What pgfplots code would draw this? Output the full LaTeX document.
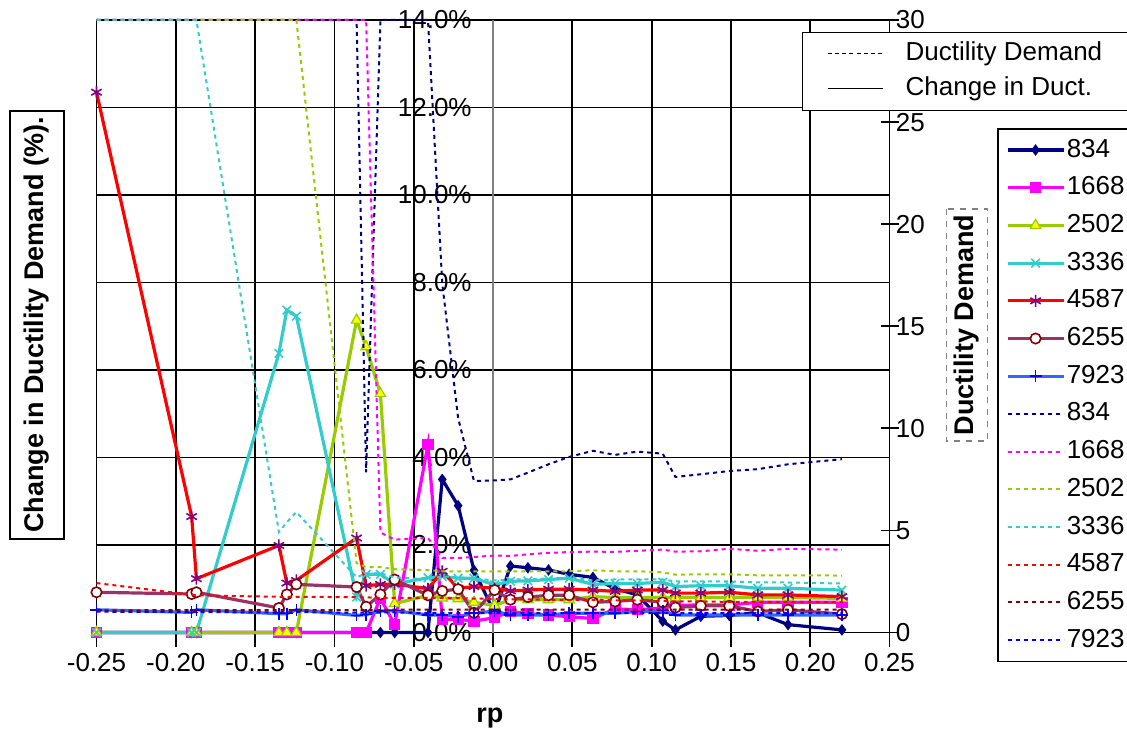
\documentclass[border=0pt]{standalone}
\usepackage{fontspec}
\setmainfont{Liberation Sans}
\usepackage{pgfplots}
\pgfplotsset{compat=1.18}
\usepackage{pgfplotstable}

\definecolor{cNavy}{HTML}{000080}
\definecolor{cMag}{HTML}{FF00FF}
\definecolor{cOlive}{HTML}{99CC00}
\definecolor{cYel}{HTML}{FFFF00}
\definecolor{cTeal}{HTML}{33CCCC}
\definecolor{cRed}{HTML}{FF0000}
\definecolor{cPurp}{HTML}{800080}
\definecolor{cPlum}{HTML}{993366}
\definecolor{cDRed}{HTML}{800000}
\definecolor{cBlue}{HTML}{3366FF}
\definecolor{cBlueB}{HTML}{0000FF}

\pgfplotstableread{
x a b c d e f g ad bd cd dd ed fd gd
-0.250 0 0 0 0 12.35 0.92 0.52 30 30 30 30 2.42 1.08 1.02
-0.190 0 0 0 0 2.65 0.88 0.46 30 30 30 30 1.85 1.10 1.00
-0.187 0 0 0 0 1.23 0.92 0.52 30 30 30 30 1.82 1.10 1.00
-0.135 0 0 0 6.38 1.99 0.56 0.43 30 30 30 4.92 1.75 1.10 0.98
-0.130 0 0 0 7.37 1.13 0.87 0.43 30 30 30 5.40 1.75 1.10 0.98
-0.124 0 0 0 7.23 1.19 1.10 0.52 30 30 30 5.90 1.75 1.10 1.00
-0.086 0 0 7.14 0.81 2.16 1.04 0.39 30 30 3.40 2.70 1.73 1.10 0.97
-0.080 0 0 6.53 1.33 1.07 0.59 0.41 7.84 30 3.20 2.90 1.72 1.10 0.97
-0.071 0 0.78 5.46 1.33 1.10 0.87 0.49 30 4.90 3.20 2.90 1.70 1.10 0.98
-0.062 0 0.18 0.66 1.11 1.11 1.21 0.50 30 4.55 3.10 2.70 1.70 1.12 0.98
-0.041 0 4.30 0.85 1.25 1.00 0.85 0.40 30 4.63 3.05 2.60 1.70 1.12 0.96
-0.032 3.50 0.30 0.79 1.28 1.40 0.95 0.40 17.1 3.65 3.00 2.75 1.70 1.12 0.96
-0.022 2.90 0.30 0.77 1.24 1.01 0.99 0.36 10.5 3.65 3.00 2.70 1.68 1.12 0.95
-0.012 1.42 0.26 0.69 1.24 1.05 0.45 0.44 7.42 3.70 3.00 2.65 1.66 1.12 0.95
0.001 0.45 0.34 0.62 1.09 1.01 0.97 0.49 7.45 3.77 3.00 2.55 1.65 1.12 0.95
0.011 1.52 0.48 0.75 1.17 0.95 0.75 0.40 7.50 3.75 3.00 2.60 1.62 1.12 0.95
0.022 1.48 0.43 0.75 1.18 0.97 0.81 0.40 7.83 3.83 3.00 2.60 1.62 1.12 0.95
0.035 1.43 0.40 0.75 1.21 0.99 0.85 0.40 8.24 3.90 3.00 2.65 1.60 1.12 0.95
0.048 1.33 0.36 0.75 1.24 0.99 0.85 0.44 8.60 3.94 3.00 2.70 1.60 1.12 0.95
0.063 1.26 0.32 0.82 1.10 0.97 0.69 0.44 8.90 3.96 3.05 2.55 1.60 1.12 0.95
0.077 1.00 0.54 0.80 1.12 0.94 0.71 0.44 8.70 3.95 3.00 2.60 1.58 1.12 0.95
0.091 0.86 0.52 0.80 1.12 0.97 0.75 0.48 8.86 4.00 3.00 2.60 1.57 1.12 0.95
0.107 0.26 0.56 0.80 1.15 0.97 0.69 0.50 8.76 4.06 2.95 2.60 1.55 1.12 0.95
0.115 0.06 0.62 0.80 1.05 0.90 0.57 0.40 7.62 3.96 2.83 2.50 1.52 1.12 0.95
0.131 0.37 0.63 0.80 1.07 0.90 0.61 0.40 7.75 3.98 2.85 2.50 1.52 1.12 0.95
0.149 0.39 0.63 0.80 1.07 0.92 0.61 0.40 7.91 4.10 2.85 2.50 1.50 1.12 0.95
0.167 0.45 0.69 0.80 1.01 0.86 0.48 0.40 8.00 4.00 2.80 2.45 1.50 1.12 0.95
0.186 0.18 0.69 0.80 1.01 0.86 0.52 0.40 8.24 4.10 2.80 2.45 1.50 1.12 0.95
0.220 0.06 0.69 0.78 0.97 0.82 0.42 0.40 8.49 4.06 2.79 2.40 1.49 1.12 0.95
}\data

\newcommand\tfont{\fontsize{13}{15.6}\selectfont}
\newcommand\lfont{\fontsize{13.5}{16}\selectfont\bfseries}

\pgfplotsset{
  frame/.style={at={(0,0)}, anchor=south west, scale only axis, width=396.5pt, height=306.25pt, xmin=-0.25, xmax=0.25},
  sol/.style={line width=1.6pt, mark options={solid}},
  dot/.style={line width=1pt, dash pattern=on 2pt off 2pt},
}

\begin{document}
\begin{tikzpicture}
\useasboundingbox (-48.25pt,-50.75pt) rectangle (515.25pt,316.25pt);

% ---- left axis: change in ductility demand (%)
\begin{axis}[frame,
  ymin=0, ymax=14,
  xtick={-0.25,-0.2,-0.15,-0.1,-0.05,0,0.05,0.1,0.15,0.2,0.25},
  xticklabels={-0.25,-0.20,-0.15,-0.10,-0.05,0.00,0.05,0.10,0.15,0.20,0.25},
  ytick={0,2,4,6,8,10,12,14},
  yticklabels={0.0\%,2.0\%,4.0\%,6.0\%,8.0\%,10.0\%,12.0\%,14.0\%},
  grid=major, major grid style={black, line width=0.9pt},
  axis line style={black, line width=0.9pt},
  xtick pos=bottom, ytick pos=left,
  xtick style={black, line width=0.9pt}, ytick style={draw=none},
  tick align=outside, major tick length=7pt,
  ticklabel style={font=\tfont},
  xticklabel style={inner sep=0pt, anchor=north, yshift=-3pt},
  yticklabel style={inner sep=0pt, anchor=east, xshift=194.75pt},
  xlabel={rp}, xlabel style={font=\lfont, at={(axis description cs:0.496,-0.1396)}, anchor=center},
  ylabel={Change in Ductility Demand (\%).},
  ylabel style={font=\lfont, draw=black, line width=1pt, inner xsep=3.25pt, inner ysep=7pt, at={(axis description cs:-0.075,0.502)}, anchor=center},
  clip=false,
]
\draw[gray, line width=0.9pt] (axis cs:0,0) -- (axis cs:0,14);
\addplot[sol, cNavy, mark=diamond*, mark size=1.6pt] table[x=x,y=a]{\data};
\addplot[sol, cMag, mark=square*, mark size=2pt] table[x=x,y=b]{\data};
\addplot[sol, cOlive, mark=triangle*, mark size=3pt, mark options={fill=cYel, draw=cOlive, line width=0.6pt}] table[x=x,y=c]{\data};
\addplot[sol, cTeal, mark=x, mark size=3pt, mark options={line width=0.8pt}] table[x=x,y=d]{\data};
\addplot[sol, cRed, mark=asterisk, mark size=3pt, mark options={draw=cPurp, line width=0.8pt}] table[x=x,y=e]{\data};
\addplot[sol, cPlum, mark=*, mark size=2.6pt, mark options={fill=white, draw=cDRed, line width=0.8pt}] table[x=x,y=f]{\data};
\addplot[sol, cBlue, mark=+, mark size=3pt, mark options={draw=cBlueB, line width=0.8pt}] table[x=x,y=g]{\data};
\end{axis}

% ---- right axis: ductility demand
\begin{axis}[frame,
  ymin=0, ymax=30,
  axis x line=none, axis y line*=right,
  ytick={0,5,10,15,20,25,30}, yticklabels={0,5,10,15,20,25,30},
  tick align=center, major tick length=9pt,
  ytick style={black, line width=0.9pt},
  axis line style={black, line width=0.9pt},
  ticklabel style={font=\tfont},
  yticklabel style={inner sep=0pt, anchor=west, xshift=-1.5pt},
  ylabel={Ductility Demand},
  ylabel style={font=\lfont, draw=gray, dashed, line width=0.8pt, inner xsep=3pt, inner ysep=4pt, rotate=0, at={(axis description cs:1.0977,0.502)}, anchor=center},
  clip=false,
  legend image code/.code={\draw[mark repeat=2,mark phase=2,#1] plot coordinates {(0pt,0pt) (14pt,0pt) (28pt,0pt)}; \path[draw=none, fill=none] (0pt,-3pt) rectangle (28pt,3pt);},
  legend style={at={(axis description cs:1.136,0.823)}, anchor=north west, draw=black, line width=0.6pt, fill=white,
    font=\tfont, inner xsep=4pt, inner ysep=4.5pt, row sep=6.85pt, column sep=0.8pt,
    nodes={inner sep=0pt, text height=9.5pt, text depth=2.5pt}},
  legend cell align=left,
]
\addlegendimage{sol, cNavy, mark=diamond*, mark size=1.6pt}
\addlegendentry{834}
\addlegendimage{sol, cMag, mark=square*, mark size=2pt}
\addlegendentry{1668}
\addlegendimage{sol, cOlive, mark=triangle*, mark size=3pt, mark options={fill=cYel, draw=cOlive, line width=0.6pt}}
\addlegendentry{2502}
\addlegendimage{sol, cTeal, mark=x, mark size=3pt, mark options={line width=0.8pt}}
\addlegendentry{3336}
\addlegendimage{sol, cRed, mark=asterisk, mark size=3pt, mark options={draw=cPurp, line width=0.8pt}}
\addlegendentry{4587}
\addlegendimage{sol, cPlum, mark=*, mark size=2.6pt, mark options={fill=white, draw=cDRed, line width=0.8pt}}
\addlegendentry{6255}
\addlegendimage{sol, cBlue, mark=+, mark size=3pt, mark options={draw=cBlueB, line width=0.8pt}}
\addlegendentry{7923}
\addplot[dot, cNavy] table[x=x,y=ad]{\data};
\addlegendentry{834}
\addplot[dot, cMag] table[x=x,y=bd]{\data};
\addlegendentry{1668}
\addplot[dot, cOlive] table[x=x,y=cd]{\data};
\addlegendentry{2502}
\addplot[dot, cTeal] table[x=x,y=dd]{\data};
\addlegendentry{3336}
\addplot[dot, cRed] table[x=x,y=ed]{\data};
\addlegendentry{4587}
\addplot[dot, cDRed] table[x=x,y=fd]{\data};
\addlegendentry{6255}
\addplot[dot, cBlueB] table[x=x,y=gd]{\data};
\addlegendentry{7923}
\end{axis}

% ---- line-type legend
\begin{axis}[frame, ymin=0, ymax=1, hide axis,
  legend image code/.code={\draw[#1] (0pt,0pt) -- (27.5pt,0pt);},
  legend style={at={(axis description cs:0.889,0.981)}, anchor=north west, draw=black, line width=0.6pt, fill=white,
    font=\tfont, inner xsep=12.5pt, inner ysep=4.8pt, row sep=5.5pt, column sep=11.2pt,
    nodes={inner sep=0pt, text height=9.5pt, text depth=2.5pt}},
  legend cell align=left,
]
\addlegendimage{black, line width=0.6pt, dash pattern=on 2pt off 1.6pt}
\addlegendentry{Ductility Demand\hspace*{7pt}}
\addlegendimage{black, line width=0.6pt}
\addlegendentry{Change in Duct.}
\end{axis}
\end{tikzpicture}
\end{document}
